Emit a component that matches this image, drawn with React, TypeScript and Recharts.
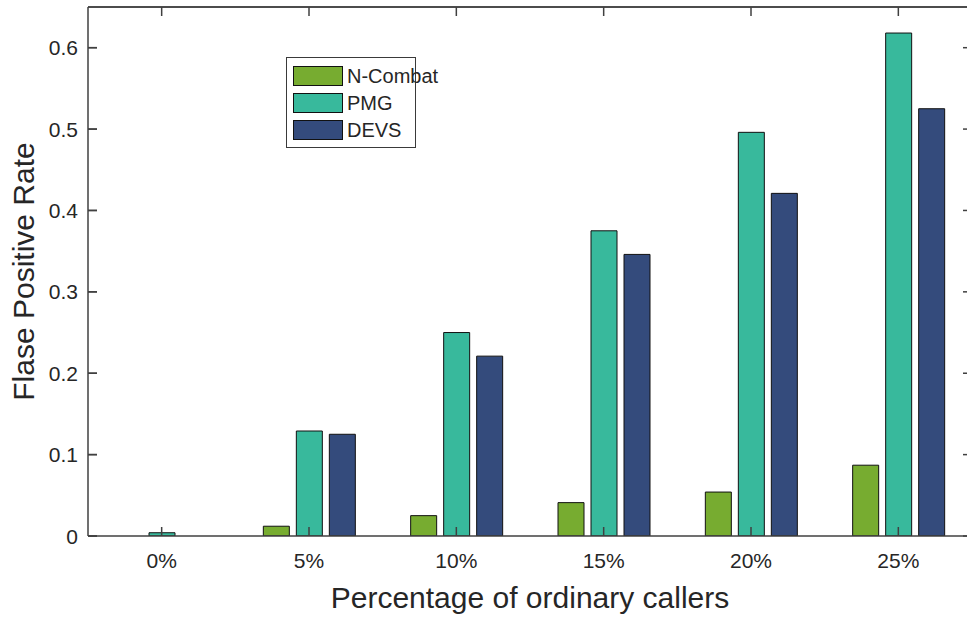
import React from 'react'
import { BarChart, Bar, XAxis, YAxis, Legend, ReferenceLine } from 'recharts'

const categories = ['0%', '5%', '10%', '15%', '20%', '25%']
const nCombat = [0, 0.012, 0.025, 0.041, 0.054, 0.087]
const pmg = [0.004, 0.129, 0.25, 0.375, 0.496, 0.618]
const devs = [0, 0.125, 0.221, 0.346, 0.421, 0.525]
const yTicks = [0, 0.1, 0.2, 0.3, 0.4, 0.5, 0.6]
const Y_MAX = 0.65

const SERIES = [
  { key: 'nCombat', name: 'N-Combat', color: '#77AC30' },
  { key: 'pmg', name: 'PMG', color: '#38B99C' },
  { key: 'devs', name: 'DEVS', color: '#344B7C' },
]

const data = categories.map((cat, i) => ({
  cat,
  nCombat: nCombat[i],
  pmg: pmg[i],
  devs: devs[i],
}))

const AXIS = '#404040'
const TEXT = '#262626'
const FONT = '"Liberation Sans", Arial, Helvetica, sans-serif'
const TICK_LEN = 9
const PLOT_LEFT = 88
const PLOT_RIGHT = 972
const PLOT_TOP = 7

function BottomTick({ x, y, payload }: any) {
  return (
    <g>
      <path d={`M${x},${y}V${y - TICK_LEN}`} stroke={AXIS} strokeWidth={1.5} fill="none" />
      <text x={x} y={y + 32} textAnchor="middle" fontSize={21} fill={TEXT} fontFamily={FONT}>
        {payload.value}
      </text>
    </g>
  )
}

function TopTick({ x }: any) {
  return <path d={`M${x},${PLOT_TOP}V${PLOT_TOP + TICK_LEN}`} stroke={AXIS} strokeWidth={1.5} fill="none" />
}

function LeftTick({ y, payload }: any) {
  const v = payload.value === 0 ? '0' : Number(payload.value).toFixed(1)
  return (
    <g>
      <path d={`M${PLOT_LEFT},${y}H${PLOT_LEFT + TICK_LEN}`} stroke={AXIS} strokeWidth={1.5} fill="none" />
      <text x={PLOT_LEFT - 10} y={y} dy="0.36em" textAnchor="end" fontSize={21} fill={TEXT} fontFamily={FONT}>
        {v}
      </text>
    </g>
  )
}

// inward tick marks on both vertical sides of the box
function RightTick({ y }: any) {
  return (
    <g>
      <path d={`M${PLOT_RIGHT},${y}H${PLOT_RIGHT - TICK_LEN}`} stroke={AXIS} strokeWidth={1.5} fill="none" />
      <path d={`M${PLOT_LEFT},${y}H${PLOT_LEFT + TICK_LEN}`} stroke={AXIS} strokeWidth={1.5} fill="none" />
    </g>
  )
}

function LegendBox() {
  return (
    <div
      style={{
        border: '1px solid #3a3a3a',
        background: '#fff',
        padding: '5px 6px 4px 6px',
        fontFamily: FONT,
        fontSize: 20,
        color: TEXT,
        width: 116,
        whiteSpace: 'nowrap',
        lineHeight: 1,
      }}
    >
      {SERIES.map((s) => (
        <div key={s.key} style={{ display: 'flex', alignItems: 'center', height: 26.7 }}>
          <div
            style={{
              width: 48,
              height: 18,
              background: s.color,
              border: '1px solid #111',
              marginRight: 4,
              flexShrink: 0,
            }}
          />
          <span>{s.name}</span>
        </div>
      ))}
    </div>
  )
}

export default function App() {
  return (
    <div style={{ position: 'absolute', left: 0, top: 0, width: 967, height: 617, overflow: 'hidden', background: '#fff' }}>
      <BarChart
        width={980}
        height={617}
        data={data}
        margin={{ top: PLOT_TOP - 1, right: 980 - PLOT_RIGHT - 1, bottom: 0, left: 0 }}
        barSize={26}
        barGap={7}
      >
        {SERIES.map((s) => (
          <Bar
            key={s.key}
            dataKey={s.key}
            name={s.name}
            fill={s.color}
            stroke="#111"
            strokeWidth={1}
            isAnimationActive={false}
          />
        ))}
        <ReferenceLine y={Y_MAX} stroke={AXIS} strokeWidth={1.5} />
        <XAxis
          dataKey="cat"
          height={81}
          axisLine={{ stroke: AXIS, strokeWidth: 1.5 }}
          tickLine={false}
          tickSize={0}
          tickMargin={0}
          tick={<BottomTick />}
          interval={0}
          label={({ viewBox }: any) => (
            <text
              x={viewBox.x + viewBox.width / 2}
              y={viewBox.y + 72}
              textAnchor="middle"
              fontSize={30}
              fill={TEXT}
              fontFamily={FONT}
            >
              Percentage of ordinary callers
            </text>
          )}
        />
        <XAxis
          xAxisId="top"
          dataKey="cat"
          orientation="top"
          height={1}
          axisLine={{ stroke: AXIS, strokeWidth: 1.5 }}
          tickLine={false}
          tickSize={0}
          tickMargin={0}
          tick={<TopTick />}
          interval={0}
        />
        <YAxis
          width={PLOT_LEFT}
          domain={[0, Y_MAX]}
          ticks={yTicks}
          axisLine={{ stroke: AXIS, strokeWidth: 1.5 }}
          tickLine={false}
          tickSize={0}
          tickMargin={0}
          tick={<LeftTick />}
          allowDataOverflow
          label={({ viewBox }: any) => {
            const cx = 34
            const cy = viewBox.y + viewBox.height / 2
            return (
              <text
                x={cx}
                y={cy}
                transform={`rotate(-90, ${cx}, ${cy})`}
                textAnchor="middle"
                fontSize={30}
                fill={TEXT}
                fontFamily={FONT}
              >
                Flase Positive Rate
              </text>
            )
          }}
        />
        <YAxis
          yAxisId="right"
          orientation="right"
          width={1}
          domain={[0, Y_MAX]}
          ticks={yTicks}
          axisLine={{ stroke: AXIS, strokeWidth: 1.5 }}
          tickLine={false}
          tickSize={0}
          tickMargin={0}
          tick={<RightTick />}
          allowDataOverflow
        />
        <Legend
          layout="horizontal"
          align="center"
          verticalAlign="middle"
          content={() => <LegendBox />}
          wrapperStyle={{ position: 'absolute', left: 286, top: 57, width: 130, height: 86 }}
        />
      </BarChart>
    </div>
  )
}
